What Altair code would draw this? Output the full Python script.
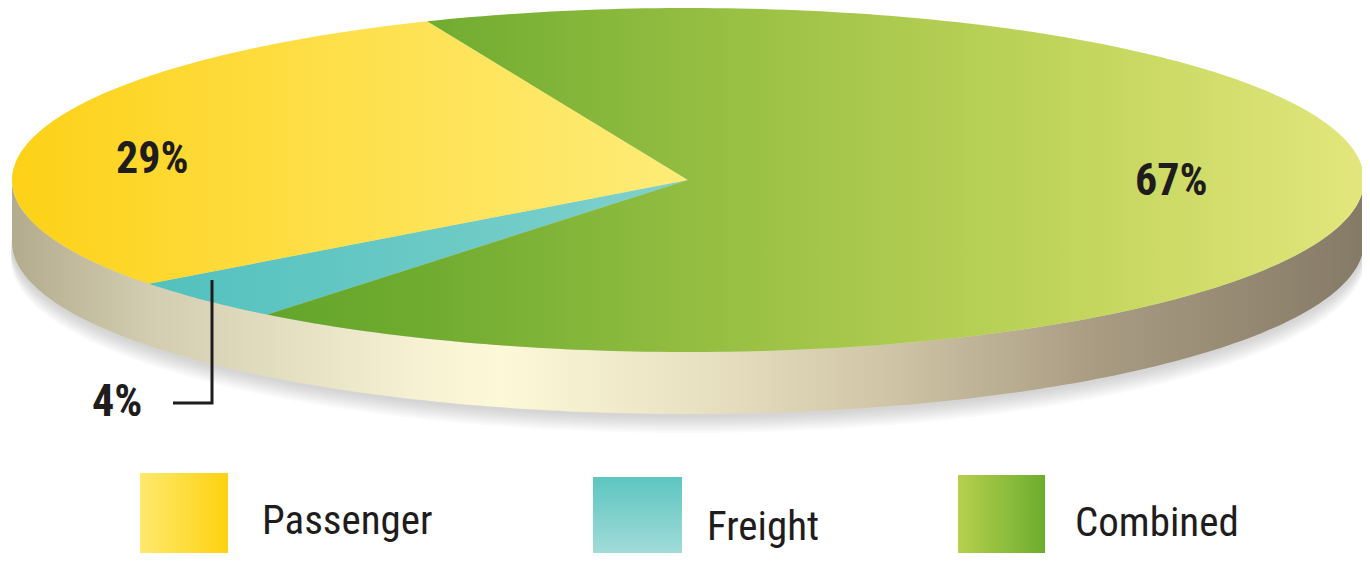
import math
import altair as alt
import pandas as pd

# ---------------- data ----------------
categories = ["Passenger", "Freight", "Combined"]
shares = [29, 4, 67]
pct_labels = [f"{v}%" for v in shares]

# ---------------- layout / style ----------------
CX, CY, RX, RY, DEPTH = 688, 180, 676, 172, 62
START_DEG = 128.5
pie_order = ["Freight", "Passenger", "Combined"]

label_pos = {"Passenger": (116, 173), "Freight": (92, 416), "Combined": (1135, 195)}
leader_pts = [(212, 280), (212, 403), (173, 403)]

swatch_box = {"Passenger": (140, 473, 228, 561),
              "Freight": (593, 477, 682, 561),
              "Combined": (958, 475, 1045, 561)}
legend_text_pos = {"Passenger": (262, 534), "Freight": (707, 540), "Combined": (1075, 536)}

TEXT_FONT = "Liberation Sans Narrow, Roboto Condensed, DejaVu Sans Condensed, Liberation Sans, sans-serif"
INK = "#1e1c1c"


def lin(stops, x1=0, y1=0, x2=1, y2=0):
    return {"gradient": "linear", "x1": x1, "y1": y1, "x2": x2, "y2": y2,
            "stops": [{"offset": o, "color": c} for o, c in stops]}


slice_fill = {
    "Passenger": lin([(0, "#FDD117"), (0.5, "#FEE04C"), (1, "#FEEC78")]),
    "Freight": lin([(0, "#52C1BD"), (1, "#80D1CC")]),
    "Combined": lin([(0, "#63A52B"), (0.15, "#70AC30"), (0.45, "#9CC245"),
                     (0.75, "#C4D65E"), (1, "#E3E67C")]),
}
swatch_fill = {
    "Passenger": lin([(0, "#FEE96E"), (1, "#FDD20F")]),
    "Freight": lin([(0, "#5DC5C0"), (1, "#A8DEDB")], x2=0, y2=1),
    "Combined": lin([(0, "#B6D04C"), (1, "#6CAD2E")]),
}
side_fill = lin([(0, "#B3AB8D"), (0.1, "#D2CCB0"), (0.3, "#F6F1D2"), (0.36, "#FCF8D8"),
                 (0.5, "#EAE3C3"), (0.65, "#CFC4A6"), (0.8, "#A99C83"), (1, "#857A66")])

proj = alt.Projection(type="identity", scale=1, translate=[-8, -8]).to_dict()


def ept(t_deg, dy=0.0, rx=RX, ry=RY):
    t = math.radians(t_deg)
    return [CX + rx * math.cos(t), CY + ry * math.sin(t) + dy]


def feature(geom):
    return {"type": "Feature", "properties": {}, "geometry": geom}


def poly_chart(coords, fill, **kw):
    f = feature({"type": "Polygon", "coordinates": [coords]})
    return alt.Chart(alt.Data(values=[f])).mark_geoshape(
        fill=fill, stroke="transparent", strokeWidth=0, **kw).project(**proj)


layers = []

# soft shadow under the disc
for k in range(18, 1, -2):
    ring = [ept(d, DEPTH + k, RX + 1, RY + 1) for d in range(0, 361, 2)]
    layers.append(poly_chart(ring, "#77736a", opacity=0.035))

# side band (lower half, extruded)
side = [ept(d) for d in range(0, 181, 1)] + [ept(d, DEPTH) for d in range(180, -1, -1)]
side.append(side[0])
layers.append(poly_chart(side, side_fill))

# pie slices on the top face
share_map = dict(zip(categories, shares))
a = START_DEG
for cat in pie_order:
    span = share_map[cat] / sum(shares) * 360
    n = max(4, int(span))
    pts = [[CX, CY]] + [ept(a + span * i / n) for i in range(n + 1)] + [[CX, CY]]
    layers.append(poly_chart(pts, slice_fill[cat]))
    a += span

# leader line for the small slice
leader = feature({"type": "LineString", "coordinates": [list(p) for p in leader_pts]})
layers.append(
    alt.Chart(alt.Data(values=[leader])).mark_geoshape(
        filled=False, stroke=INK, strokeWidth=3, strokeJoin="miter"
    ).project(**proj)
)

# percentage labels
lab_df = pd.DataFrame({
    "x": [label_pos[c][0] for c in categories],
    "y": [label_pos[c][1] for c in categories],
    "t": pct_labels,
})
layers.append(
    alt.Chart(lab_df).mark_text(
        font=TEXT_FONT, fontSize=44, fontWeight="bold", color=INK,
        align="left", baseline="alphabetic"
    ).encode(longitude="x:Q", latitude="y:Q", text="t:N").project(**proj)
)

# legend swatches
for cat in categories:
    x0, y0, x1, y1 = swatch_box[cat]
    layers.append(poly_chart([[x0, y0], [x1, y0], [x1, y1], [x0, y1], [x0, y0]], swatch_fill[cat]))

leg_df = pd.DataFrame({
    "x": [legend_text_pos[c][0] for c in categories],
    "y": [legend_text_pos[c][1] for c in categories],
    "t": categories,
})
layers.append(
    alt.Chart(leg_df).mark_text(
        font=TEXT_FONT, fontSize=41, color=INK, align="left", baseline="alphabetic"
    ).encode(longitude="x:Q", latitude="y:Q", text="t:N").project(**proj)
)

chart = alt.layer(*layers).properties(
    width=1354, height=545, padding=0, autosize=alt.AutoSizeParams(type="none")
).configure_view(stroke=None)

chart.save("out.html", embed_options={"renderer": "svg", "actions": False})
